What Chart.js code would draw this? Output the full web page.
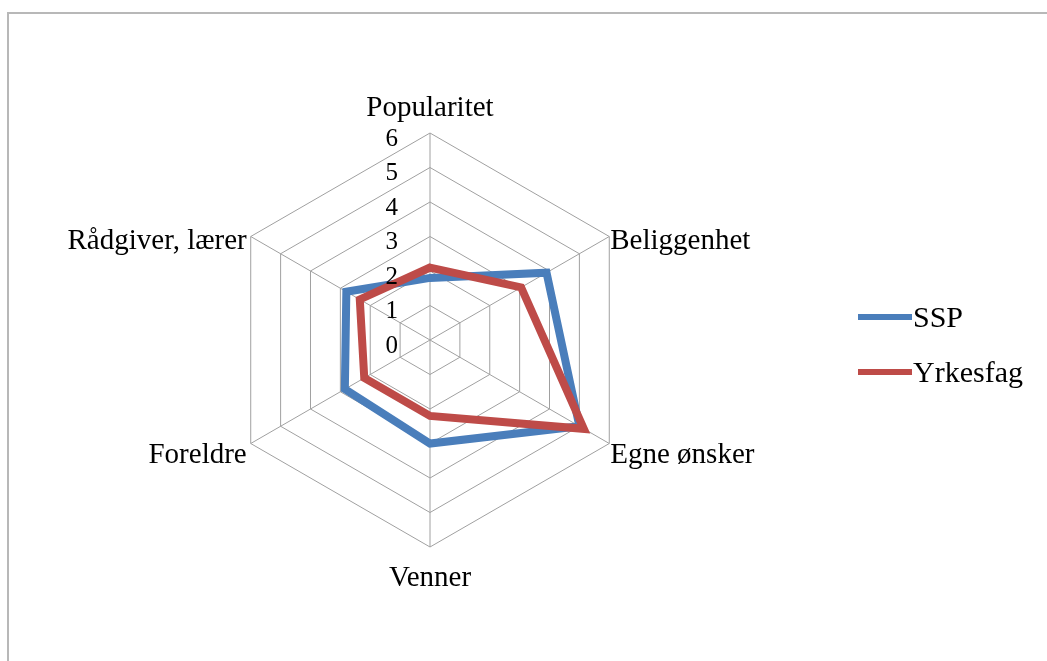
<!DOCTYPE html>
<html>
<head>
<meta charset="utf-8">
<script src="https://cdn.jsdelivr.net/npm/chart.js@4/dist/chart.umd.min.js"></script>
<style>
  html, body { margin: 0; padding: 0; background: #fff; }
  #wrap { position: relative; width: 1047px; height: 661px; overflow: hidden; background: #fff; }
  #frame { position: absolute; left: 7px; top: 12px; width: 1100px; height: 700px;
           border-left: 2px solid #b8b8b8; border-top: 2px solid #b8b8b8; }
  #chart { position: absolute; left: 0; top: 0; }
  #legend { position: absolute; left: 858px; top: 289px; font-family: "Liberation Serif", "DejaVu Serif", serif;
            font-size: 30px; color: #000; }
  .item { display: flex; align-items: center; height: 55px; }
  .swatch { width: 54px; height: 6px; margin-right: 1px; }
</style>
</head>
<body>
<div id="wrap">
  <div id="frame"></div>
  <canvas id="chart" width="1047" height="661"></canvas>
  <div id="legend"></div>
</div>
<script>
const categories = ["Popularitet", "Beliggenhet", "Egne ønsker", "Venner", "Foreldre", "Rådgiver, lærer"];
const sspValues = [1.8, 3.9, 5.0, 3.0, 2.85, 2.8];
const yrkesfagValues = [2.1, 3.05, 5.15, 2.2, 2.2, 2.35];
const tickValues = [0, 1, 2, 3, 4, 5, 6];

const seriesNames = ["SSP", "Yrkesfag"];
const seriesColors = ["#4a7ebb", "#be4b48"];

const serif = '"Liberation Serif", "DejaVu Serif", serif';

// tick numbers and category names drawn from the scale's own geometry
const radarText = {
  id: "radarText",
  afterDraw(chart) {
    const scale = chart.scales.r;
    const ctx = chart.ctx;
    ctx.save();
    ctx.fillStyle = "#000";

    ctx.font = "25px " + serif;
    ctx.textAlign = "right";
    ctx.textBaseline = "middle";
    tickValues.forEach((v) => {
      const y = scale.yCenter - scale.getDistanceFromCenterForValue(v);
      ctx.fillText(String(v), scale.xCenter - 32, y + 6);
    });

    ctx.font = "29px " + serif;
    categories.forEach((name, i) => {
      const p = scale.getPointPosition(i, scale.drawingArea);
      let dx = 0, dy = 0;
      if (i === 0) { ctx.textAlign = "center"; dy = -25; }
      else if (i === 3) { ctx.textAlign = "center"; dy = 31; }
      else if (i < 3) { ctx.textAlign = "left"; dx = 1; dy = i === 1 ? 5 : 12; }
      else { ctx.textAlign = "right"; dx = -4; dy = i === 5 ? 5 : 12; }
      ctx.fillText(name, p.x + dx, p.y + dy);
    });
    ctx.restore();
  }
};

new Chart(document.getElementById("chart"), {
  type: "radar",
  data: {
    labels: categories,
    datasets: [
      {
        label: seriesNames[0],
        data: sspValues,
        borderColor: seriesColors[0],
        borderWidth: 8,
        pointRadius: 0,
        fill: false,
        order: 2,
      },
      {
        label: seriesNames[1],
        data: yrkesfagValues,
        borderColor: seriesColors[1],
        borderWidth: 8,
        pointRadius: 0,
        fill: false,
        order: 1,
      },
    ],
  },
  options: {
    responsive: false,
    animation: false,
    devicePixelRatio: 1,
    layout: { padding: { left: 223, right: 410, top: 133, bottom: 114 } },
    plugins: { legend: { display: false }, tooltip: { enabled: false } },
    elements: { line: { tension: 0, borderJoinStyle: "miter" } },
    scales: {
      r: {
        min: 0,
        max: 6,
        ticks: { stepSize: 1, display: false },
        grid: { color: "#a0a0a0", lineWidth: 1 },
        angleLines: { color: "#a0a0a0", lineWidth: 1 },
        pointLabels: { display: false },
      },
    },
  },
  plugins: [radarText],
});

const legendEl = document.getElementById("legend");
legendEl.innerHTML = seriesNames.map((name, i) => `
  <div class="item">
    <div class="swatch" style="background:${seriesColors[i]}"></div>
    <span>${name}</span>
  </div>`).join("");
</script>
</body>
</html>
